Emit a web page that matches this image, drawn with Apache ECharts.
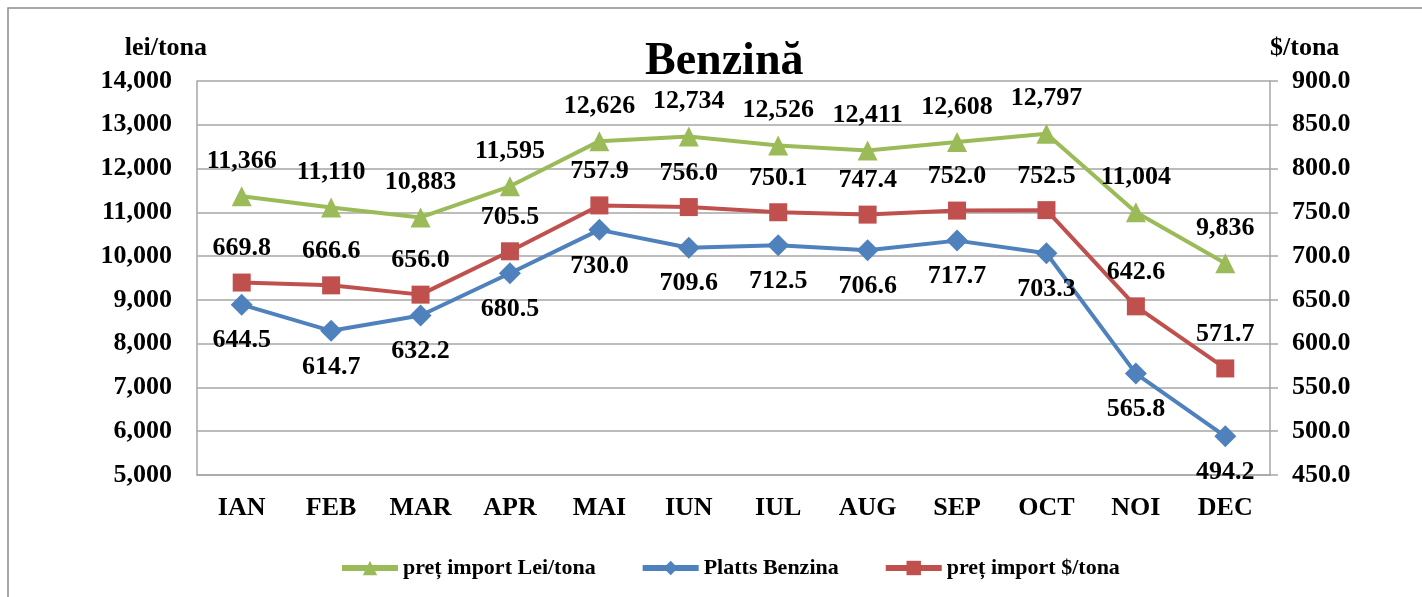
<!DOCTYPE html>
<html>
<head>
<meta charset="utf-8">
<script src="https://cdn.jsdelivr.net/npm/echarts@6/dist/echarts.min.js"></script>
<style>
  html, body { margin: 0; padding: 0; background: #fff; }
  #chart { width: 1422px; height: 597px; }
</style>
</head>
<body>
<div id="chart"></div>
<script>
const months = ['IAN', 'FEB', 'MAR', 'APR', 'MAI', 'IUN', 'IUL', 'AUG', 'SEP', 'OCT', 'NOI', 'DEC'];
const importLei = [11366, 11110, 10883, 11595, 12626, 12734, 12526, 12411, 12608, 12797, 11004, 9836];
const plattsBenzina = [644.5, 614.7, 632.2, 680.5, 730.0, 709.6, 712.5, 706.6, 717.7, 703.3, 565.8, 494.2];
const importUsd = [669.8, 666.6, 656.0, 705.5, 757.9, 756.0, 750.1, 747.4, 752.0, 752.5, 642.6, 571.7];

const FONT = "'Liberation Serif', 'Times New Roman', serif";
const gridColor = '#a6a6a6';

const chart = echarts.init(document.getElementById('chart'));

const labelStyle = (pos, fmt) => ({
  show: true,
  position: pos,
  distance: 12,
  fontFamily: FONT,
  fontWeight: 'bold',
  fontSize: 26,
  color: '#000',
  formatter: p => fmt(p.value)
});

const option = {
  animation: false,
  textStyle: { fontFamily: FONT },
  title: {
    text: 'Benzină',
    left: 640,
    top: 34,
    textStyle: { fontFamily: FONT, fontWeight: 'bold', fontSize: 46, color: '#000' }
  },
  graphic: [{
    type: 'rect',
    shape: { x: 8, y: 8, width: 1430, height: 620 },
    style: { fill: 'none', stroke: '#8c8c8c', lineWidth: 1.5 },
    silent: true
  }],
  legend: {
    left: 334,
    top: 552,
    itemWidth: 56,
    itemHeight: 18,
    itemGap: 44,
    lineStyle: { width: 6 },
    textStyle: { fontFamily: FONT, fontWeight: 'bold', fontSize: 22, color: '#000' },
    data: ['preț import Lei/tona', 'Platts Benzina', 'preț import $/tona']
  },
  grid: { left: 197, right: 152, top: 81, bottom: 122 },
  xAxis: {
    type: 'category',
    data: months,
    boundaryGap: true,
    axisLine: { show: true, lineStyle: { color: gridColor, width: 1.5 } },
    axisTick: { show: false },
    axisLabel: {
      margin: 20,
      fontFamily: FONT, fontWeight: 'bold', fontSize: 26, color: '#000'
    }
  },
  yAxis: [{
    type: 'value',
    min: 5000, max: 14000, interval: 1000,
    name: 'lei/tona',
    nameLocation: 'end',
    nameGap: 20,
    nameTextStyle: {
      fontFamily: FONT, fontWeight: 'bold', fontSize: 26, color: '#000',
      align: 'right', padding: [0, -10, 0, 0]
    },
    axisLine: { show: true, lineStyle: { color: gridColor, width: 1.5 } },
    axisTick: { show: false },
    splitLine: { lineStyle: { color: gridColor, width: 1.5 } },
    axisLabel: {
      margin: 25,
      fontFamily: FONT, fontWeight: 'bold', fontSize: 26, color: '#000',
      formatter: v => v.toLocaleString('en-US')
    }
  }, {
    type: 'value',
    min: 450, max: 900, interval: 50,
    name: '$/tona',
    nameLocation: 'end',
    nameGap: 20,
    nameTextStyle: { fontFamily: FONT, fontWeight: 'bold', fontSize: 26, color: '#000', align: 'left' },
    axisLine: { show: true, lineStyle: { color: gridColor, width: 1.5 } },
    axisTick: { show: true, inside: false, length: 8, lineStyle: { color: gridColor, width: 1.5 } },
    splitLine: { show: false },
    axisLabel: {
      margin: 22,
      fontFamily: FONT, fontWeight: 'bold', fontSize: 26, color: '#000',
      formatter: v => v.toFixed(1)
    }
  }],
  series: [{
    name: 'preț import Lei/tona',
    type: 'line',
    yAxisIndex: 0,
    data: importLei,
    symbol: 'triangle',
    symbolSize: 20,
    lineStyle: { color: '#9bbb59', width: 4 },
    itemStyle: { color: '#9bbb59' },
    label: labelStyle('top', v => v.toLocaleString('en-US')),
    z: 3
  }, {
    name: 'Platts Benzina',
    type: 'line',
    yAxisIndex: 1,
    data: plattsBenzina,
    symbol: 'diamond',
    symbolSize: 22,
    lineStyle: { color: '#4f81bd', width: 4 },
    itemStyle: { color: '#4f81bd' },
    label: labelStyle('bottom', v => v.toFixed(1)),
    z: 2
  }, {
    name: 'preț import $/tona',
    type: 'line',
    yAxisIndex: 1,
    data: importUsd,
    symbol: 'rect',
    symbolSize: 18,
    lineStyle: { color: '#c0504d', width: 4 },
    itemStyle: { color: '#c0504d' },
    label: labelStyle('top', v => v.toFixed(1)),
    z: 2
  }]
};

chart.setOption(option);
</script>
</body>
</html>
